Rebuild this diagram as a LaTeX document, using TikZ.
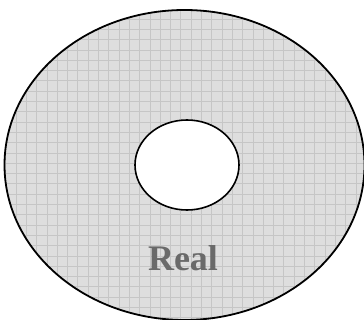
\documentclass[tikz,border=0pt]{standalone}
\usepackage{fontspec}
\setmainfont{Liberation Serif}
\definecolor{discfill}{HTML}{DEDEDE}
\definecolor{gridcol}{HTML}{C6C6C6}
\definecolor{labelcol}{HTML}{6A6A6A}
\tikzset{
  rim/.style={draw=black, line width=1.8pt},
  hole/.style={draw=black, fill=white, line width=1.6pt},
  gridline/.style={draw=gridcol, line width=0.8pt},
  disclabel/.style={text=labelcol, font=\fontsize{36}{40}\selectfont\bfseries, anchor=base, inner sep=0pt}
}
\begin{document}
\begin{tikzpicture}[x=1pt,y=-1pt]
\useasboundingbox (0,0) rectangle (364,320);
\begin{scope}
  \clip (184.5,165) ellipse [x radius=180pt, y radius=155pt];
  \fill[discfill] (0,0) rectangle (370,330);
  \foreach \i in {0,...,36} \draw[gridline] ({5.7+10.3*\i},0) -- ({5.7+10.3*\i},330);
  \foreach \j in {0,...,33} \draw[gridline] (0,{-1.5+10.3*\j}) -- (370,{-1.5+10.3*\j});
\end{scope}
\draw[rim] (184.5,165) ellipse [x radius=180pt, y radius=155pt];
\draw[hole] (187,165) ellipse [x radius=52pt, y radius=45pt];
\node[disclabel] (real) at (183,271) {Real};
\end{tikzpicture}
\end{document}
